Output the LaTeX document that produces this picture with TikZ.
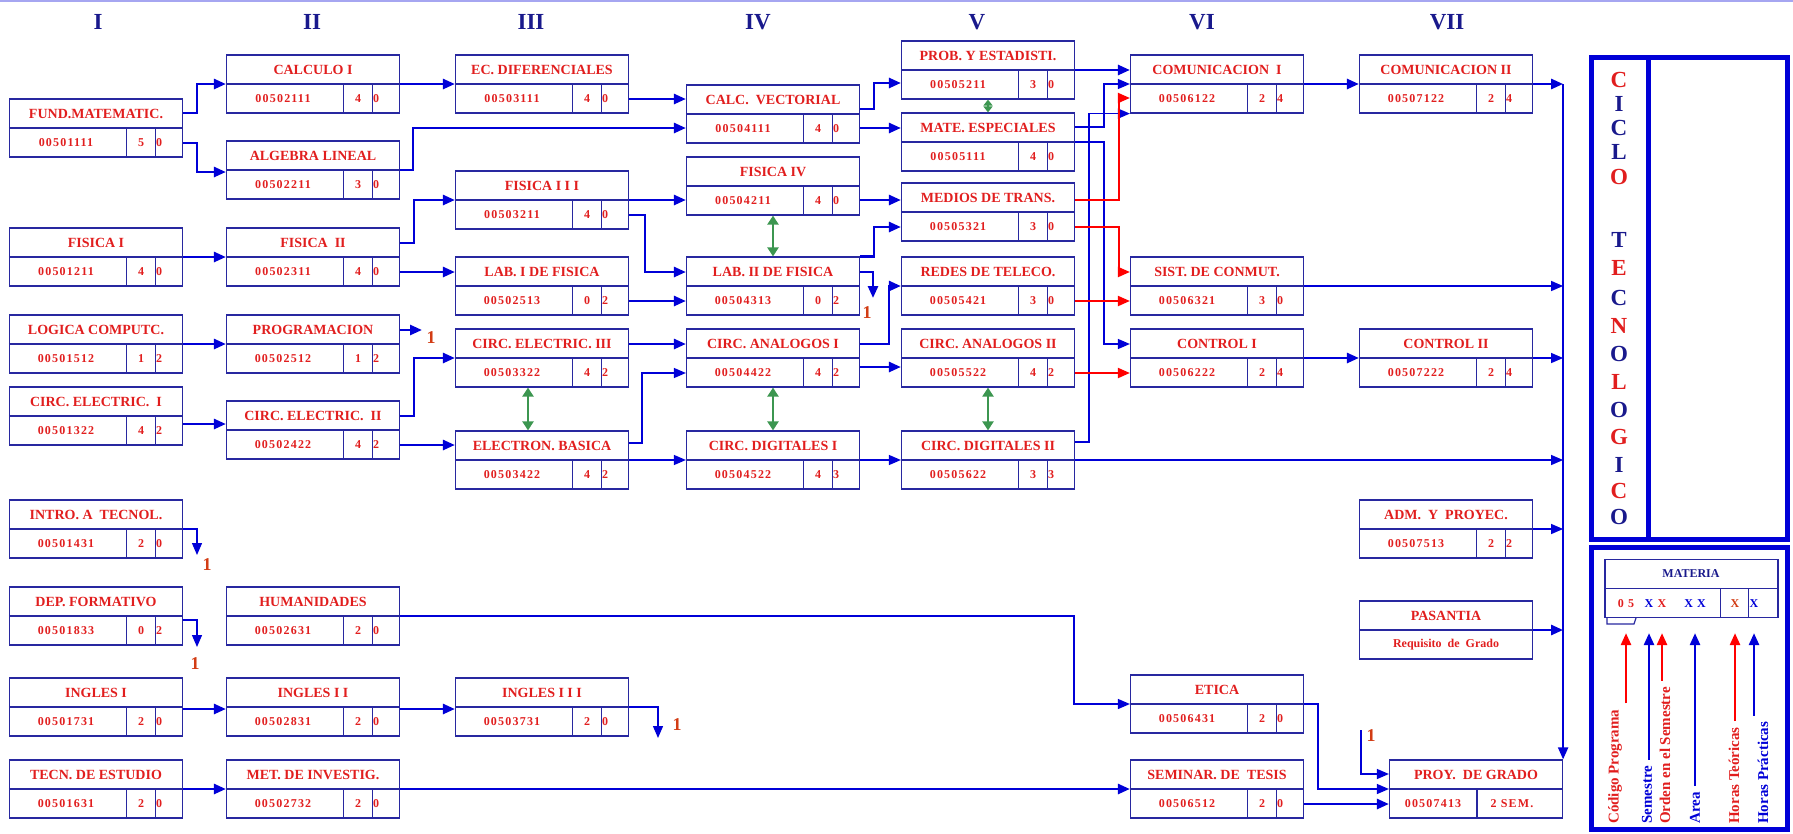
\documentclass[tikz,border=0pt]{standalone}
\usepackage{fontspec}
\setmainfont{Liberation Serif}
\newfontfamily\cifras[LetterSpace=10]{Liberation Serif}
\usetikzlibrary{arrows.meta}

\definecolor{borde}{RGB}{40,40,160}
\definecolor{azul}{RGB}{0,0,215}
\definecolor{rojo}{RGB}{225,30,30}
\definecolor{naranja}{RGB}{210,60,20}
\definecolor{verde}{RGB}{60,150,80}
\definecolor{marino}{RGB}{25,25,140}

% caja de materia: nombre, centro, titulo, codigo, horas T, horas P
\newcommand{\materia}[6]{%
  \node[caja] (#1) at (#2) {};
  \draw[borde,line width=1.2pt] (#1.west) -- (#1.east)
    ([xshift=-57pt]#1.south east) -- ([xshift=-57pt]#1.east)
    ([xshift=-28pt]#1.south east) -- ([xshift=-28pt]#1.east);
  \node[titulo] (#1-t) at ([yshift=14.5pt]#1.center) {#3};
  \node[codigo] (#1-c) at ([xshift=-30pt,yshift=-14.5pt]#1.center) {#4};
  \node[codigo] (#1-a) at ([xshift=45pt,yshift=-14.5pt]#1.center) {#5};
  \node[codigo,anchor=west] (#1-b) at ([xshift=60pt,yshift=-14.5pt]#1.center) {#6};
}

\begin{document}
\begin{tikzpicture}[x=1pt,y=-1pt,>={Triangle[length=12pt,width=10pt]},
  caja/.style={draw=borde,line width=1.2pt,minimum width=173pt,minimum height=58pt,inner sep=0pt},
  titulo/.style={text=rojo,font=\fontsize{14}{14}\selectfont\bfseries,inner sep=0pt},
  codigo/.style={text=rojo,font=\fontsize{12}{12}\cifras\bfseries,inner sep=0pt},
  semestre/.style={text=marino,font=\fontsize{23}{23}\selectfont\bfseries},
  letra/.style={font=\fontsize{23}{23}\selectfont\bfseries,inner sep=0pt},
  uno/.style={text=naranja,font=\fontsize{18}{18}\selectfont\bfseries,inner sep=0pt},
  flecha/.style={->,azul,line width=2.6pt},
  fina/.style={->,azul,line width=1.3pt},
  roja/.style={->,red,line width=2pt},
  verdes/.style={<->,verde,line width=2.6pt,>={Triangle[length=9pt,width=11pt]}},
  leyenda/.style={font=\fontsize{15}{15}\selectfont\bfseries,rotate=90,anchor=west,inner sep=0pt}]
\useasboundingbox (0,0) rectangle (1793,833);
\draw[azul!35,line width=1.5pt] (0,1) -- (1793,1);

\node[semestre] (s1) at (98,22) {I};
\node[semestre] (s2) at (312,22) {II};
\node[semestre] (s3) at (531,22) {III};
\node[semestre] (s4) at (758,22) {IV};
\node[semestre] (s5) at (977,22) {V};
\node[semestre] (s6) at (1202,22) {VI};
\node[semestre] (s7) at (1447,22) {VII};

% semestre I
\materia{fund}{96,128}{FUND.MATEMATIC.}{00501111}{5}{0}
\materia{fis1}{96,257}{FISICA I}{00501211}{4}{0}
\materia{logica}{96,344}{LOGICA COMPUTC.}{00501512}{1}{2}
\materia{ce1}{96,416}{CIRC. ELECTRIC.\ \ I}{00501322}{4}{2}
\materia{intro}{96,529}{INTRO. A\ \ TECNOL.}{00501431}{2}{0}
\materia{dep}{96,616}{DEP. FORMATIVO}{00501833}{0}{2}
\materia{ing1}{96,707}{INGLES I}{00501731}{2}{0}
\materia{tecn}{96,789}{TECN. DE ESTUDIO}{00501631}{2}{0}
% semestre II
\materia{calc1}{313,84}{CALCULO I}{00502111}{4}{0}
\materia{alg}{313,170}{ALGEBRA LINEAL}{00502211}{3}{0}
\materia{fis2}{313,257}{FISICA\ \ II}{00502311}{4}{0}
\materia{prog}{313,344}{PROGRAMACION}{00502512}{1}{2}
\materia{ce2}{313,430}{CIRC. ELECTRIC.\ \ II}{00502422}{4}{2}
\materia{hum}{313,616}{HUMANIDADES}{00502631}{2}{0}
\materia{ing2}{313,707}{INGLES I I}{00502831}{2}{0}
\materia{met}{313,789}{MET. DE INVESTIG.}{00502732}{2}{0}
% semestre III
\materia{ecdif}{542,84}{EC. DIFERENCIALES}{00503111}{4}{0}
\materia{fis3}{542,200}{FISICA I I I}{00503211}{4}{0}
\materia{lab1}{542,286}{LAB. I DE FISICA}{00502513}{0}{2}
\materia{ce3}{542,358}{CIRC. ELECTRIC. III}{00503322}{4}{2}
\materia{eb}{542,460}{ELECTRON. BASICA}{00503422}{4}{2}
\materia{ing3}{542,707}{INGLES I I I}{00503731}{2}{0}
% semestre IV
\materia{cv}{773,114}{CALC.\ \ VECTORIAL}{00504111}{4}{0}
\materia{fis4}{773,186}{FISICA IV}{00504211}{4}{0}
\materia{lab2}{773,286}{LAB. II DE FISICA}{00504313}{0}{2}
\materia{an1}{773,358}{CIRC. ANALOGOS I}{00504422}{4}{2}
\materia{dig1}{773,460}{CIRC. DIGITALES I}{00504522}{4}{3}
% semestre V
\materia{prob}{988,70}{PROB. Y ESTADISTI.}{00505211}{3}{0}
\materia{mate}{988,142}{MATE. ESPECIALES}{00505111}{4}{0}
\materia{medios}{988,212}{MEDIOS DE TRANS.}{00505321}{3}{0}
\materia{redes}{988,286}{REDES DE TELECO.}{00505421}{3}{0}
\materia{an2}{988,358}{CIRC. ANALOGOS II}{00505522}{4}{2}
\materia{dig2}{988,460}{CIRC. DIGITALES II}{00505622}{3}{3}
% semestre VI
\materia{com1}{1217,84}{COMUNICACION\ \ I}{00506122}{2}{4}
\materia{sist}{1217,286}{SIST. DE CONMUT.}{00506321}{3}{0}
\materia{ctrl1}{1217,358}{CONTROL I}{00506222}{2}{4}
\materia{etica}{1217,704}{ETICA}{00506431}{2}{0}
\materia{sem}{1217,789}{SEMINAR. DE\ \ TESIS}{00506512}{2}{0}
% semestre VII
\materia{com2}{1446,84}{COMUNICACION II}{00507122}{2}{4}
\materia{ctrl2}{1446,358}{CONTROL II}{00507222}{2}{4}
\materia{adm}{1446,529}{ADM.\ \ Y\ \ PROYEC.}{00507513}{2}{2}
\node[caja] (pas) at (1446,630) {};
\draw[borde,line width=1.2pt] (pas.west) -- (pas.east);
\node[titulo] (pas-t) at ([yshift=14.5pt]pas.center) {PASANTIA};
\node[text=rojo,font=\fontsize{12}{12}\selectfont\bfseries] (pas-c) at ([yshift=-14.5pt]pas.center) {Requisito\ \ de\ \ Grado};
\node[caja] (proy) at (1476,789) {};
\draw[borde,line width=1.2pt] (proy.west) -- (proy.east) ([xshift=88pt]proy.south west) -- ([xshift=88pt]proy.west);
\node[titulo] (proy-t) at ([yshift=14.5pt]proy.center) {PROY.\ \ DE GRADO};
\node[codigo] (proy-c) at ([xshift=-43pt,yshift=-14.5pt]proy.center) {00507413};
\node[codigo] (proy-s) at ([xshift=36pt,yshift=-14.5pt]proy.center) {2 SEM.};

% marcas "1"
\coordinate (u1c) at (422,330); \node[uno] (u1) at (431,338) {1};
\coordinate (u2c) at (873,298); \node[uno] (u2) at (867,313) {1};
\coordinate (u3c) at (197,555); \node[uno] (u3) at (207,565) {1};
\coordinate (u4c) at (197,647); \node[uno] (u4) at (195,664) {1};
\coordinate (u5c) at (658,738); \node[uno] (u5) at (677,725) {1};
\coordinate (u6c) at (1361,730); \node[uno] (u6) at (1371,736) {1};

% prelaciones
\draw[flecha] ([yshift=15pt]fund.east) -- ++(14,0) |- (calc1.west);
\draw[flecha] ([yshift=-15pt]fund.east) -- ++(14,0) |- ([yshift=-2pt]alg.west);
\draw[flecha] (calc1.east) -- (ecdif.west);
\draw[flecha] (alg.east) -- ++(13,0) |- ([yshift=-14pt]cv.west);
\draw[flecha] ([yshift=-15pt]ecdif.east) -- ([yshift=-15pt]ecdif.east -| cv.west);
\draw[flecha] (fis1.east) -- (fis2.west);
\draw[flecha] ([yshift=14pt]fis2.east) -- ++(14,0) |- (fis3.west);
\draw[flecha] ([yshift=-15pt]fis2.east) -- ([yshift=-15pt]fis2.east -| lab1.west);
\draw[flecha] (fis3.east) -- (fis3.east -| fis4.west);
\draw[flecha] ([yshift=-15pt]fis3.east) -- ++(16,0) |- ([yshift=14pt]lab2.west);
\draw[flecha] ([yshift=-15pt]lab1.east) -- ([yshift=-15pt]lab1.east -| lab2.west);
\draw[flecha] (lab2.north east) -- ++(14,0) |- ([yshift=-15pt]medios.west);
\draw[flecha] ([yshift=14pt]lab2.east) -| (u2c);
\draw[flecha] ([yshift=-14pt]fis4.east) -- ([yshift=-14pt]fis4.east -| medios.west);
\draw[flecha] ([yshift=5pt]cv.east) -- ++(14,0) |- ([yshift=-13pt]prob.west);
\draw[flecha] ([yshift=-14pt]cv.east) -- ([yshift=-14pt]cv.east -| mate.west);
\draw[flecha] (prob.east) -- (prob.east -| com1.west);
\draw[fina] ([yshift=15pt]mate.east) -- ++(29,0) |- (com1.west);
\draw[fina] (mate.east) -- ++(29,0) |- ([yshift=14pt]ctrl1.west);
\draw[fina] ([yshift=18pt]dig2.east) -- ++(14,0) |- (com1.south west);
\draw[roja] ([yshift=12pt]medios.east) -- ++(44,0) |- ([yshift=-14pt]com1.west);
\draw[roja] ([yshift=-15pt]medios.east) -- ++(44,0) |- ([yshift=14pt]sist.west);
\draw[roja] ([yshift=-15pt]redes.east) -- ([yshift=-15pt]redes.east -| sist.west);
\draw[roja] ([yshift=-15pt]an2.east) -- ([yshift=-15pt]an2.east -| ctrl1.west);
\draw[flecha] (logica.east) -- (prog.west);
\draw[flecha] ([yshift=14pt]prog.east) -- (u1c);
\draw[flecha] ([yshift=-8pt]ce1.east) -- ([yshift=-8pt]ce1.east -| ce2.west);
\draw[flecha] ([yshift=14pt]ce2.east) -- ++(14,0) |- (ce3.west);
\draw[flecha] ([yshift=-15pt]ce2.east) -- ([yshift=-15pt]ce2.east -| eb.west);
\draw[flecha] ([yshift=14pt]ce3.east) -- ([yshift=14pt]ce3.east -| an1.west);
\draw[fina] ([yshift=17pt]eb.east) -- ++(13,0) |- ([yshift=-15pt]an1.west);
\draw[fina] (eb.east) -- (dig1.west);
\draw[flecha] ([yshift=14pt]an1.east) -- ++(29,0) |- (redes.west);
\draw[flecha] ([yshift=-9pt]an1.east) -- ([yshift=-9pt]an1.east -| an2.west);
\draw[fina] (dig1.east) -- (dig2.west);
\draw[flecha] (com1.east) -- (com2.west);
\draw[flecha] (ctrl1.east) -- (ctrl2.west);
\draw[fina] (intro.east) -| (u3c);
\draw[fina] ([yshift=-4pt]dep.east) -| (u4c);
\draw[flecha] ([yshift=-2pt]ing1.east) -- ([yshift=-2pt]ing1.east -| ing2.west);
\draw[flecha] ([yshift=-2pt]ing2.east) -- ([yshift=-2pt]ing2.east -| ing3.west);
\draw[fina] (ing3.east) -| (u5c);
\draw[flecha] (tecn.east) -- (met.west);
\draw[flecha] (met.east) -- (sem.west);
\draw[fina] (hum.east) -- ++(674,0) |- (etica.west);
\draw[fina] (etica.east) -- ++(14,0) |- (proy.west);
\draw[flecha] ([yshift=-15pt]sem.east) -- ([yshift=-15pt]sem.east -| proy.west);
\draw[fina] (u6c) |- ([yshift=15pt]proy.west);
% colector hacia el proyecto de grado
\draw[flecha] (com2.east) -- (com2.east -| proy.east);
\draw[fina] (sist.east) -- (sist.east -| proy.east);
\draw[fina] (ctrl2.east) -- (ctrl2.east -| proy.east);
\draw[fina] (dig2.east) -- (dig2.east -| proy.east);
\draw[fina] (adm.east) -- (adm.east -| proy.east);
\draw[flecha] (pas.east) -- (pas.east -| proy.east);
\draw[->,azul,line width=2pt] (com2.east -| proy.east) -- (proy.north east);
% correquisitos
\draw[verdes,>={Triangle[length=6pt,width=9pt]}] (prob.south) -- (mate.north);
\draw[verdes] (fis4.south) -- (lab2.north);
\draw[verdes] ([xshift=-14pt]ce3.south) -- ([xshift=-14pt]eb.north);
\draw[verdes] (an1.south) -- (dig1.north);
\draw[verdes] (an2.south) -- (dig2.north);

% ciclo tecnologico
\draw[azul,line width=5pt] (1591,57) rectangle (1787,539) (1648,57) -- (1648,539);
\node[letra,text=rojo] (l1) at (1619,80) {C}; \node[letra,text=marino] (l2) at (1619,104) {I};
\node[letra,text=marino] (l3) at (1619,128) {C}; \node[letra,text=marino] (l4) at (1619,152) {L};
\node[letra,text=rojo] (l5) at (1619,177) {O};
\node[letra,text=marino] (l6) at (1619,240) {T}; \node[letra,text=rojo] (l7) at (1619,268) {E};
\node[letra,text=marino] (l8) at (1619,298) {C}; \node[letra,text=rojo] (l9) at (1619,326) {N};
\node[letra,text=marino] (l10) at (1619,354) {O}; \node[letra,text=rojo] (l11) at (1619,382) {L};
\node[letra,text=marino] (l12) at (1619,410) {O}; \node[letra,text=rojo] (l13) at (1619,437) {G};
\node[letra,text=marino] (l14) at (1619,465) {I}; \node[letra,text=rojo] (l15) at (1619,491) {C};
\node[letra,text=marino] (l16) at (1619,517) {O};

% leyenda
\draw[azul,line width=5pt] (1591,547) rectangle (1787,829);
\node[caja] (mat) at (1691.5,588.5) {};
\draw[borde,line width=1.2pt] (mat.west) -- (mat.east)
  ([xshift=-58pt]mat.south east) -- ([xshift=-58pt]mat.east)
  ([xshift=-30pt]mat.south east) -- ([xshift=-30pt]mat.east);
\draw[borde,line width=1.2pt] (1607,618) |- (1634,624) -- (1636,618);
\node[text=marino,font=\fontsize{12}{12}\selectfont\bfseries] (mat-t) at (1691,574) {MATERIA};
\node[codigo] (x1) at (1626,604) {0 5};
\node[codigo,text=azul] (x2) at (1649,604) {X};
\node[codigo] (x3) at (1662,604) {X};
\node[codigo,text=azul] (x4) at (1695,604) {X X};
\node[codigo,text=naranja] (x5) at (1735,604) {X};
\node[codigo,text=azul] (x6) at (1754,604) {X};
\node[leyenda,text=rojo] (lcod) at (1615,824) {Código Programa};
\node[leyenda,text=azul] (lsem) at (1647,824) {Semestre};
\node[leyenda,text=rojo] (lord) at (1665,824) {Orden en el Semestre};
\node[leyenda,text=azul] (lare) at (1695,824) {Area};
\node[leyenda,text=rojo] (lht) at (1734,824) {Horas Teóricas};
\node[leyenda,text=azul] (lhp) at (1763,824) {Horas Prácticas};
\draw[->,red,line width=2.5pt] ([yshift=6pt]lcod.east -| x1.south) -- ([yshift=-15pt]x1.south |- mat.south);
\draw[->,azul,line width=2.5pt] ([yshift=6pt]lsem.east -| x2.south) -- ([yshift=-15pt]x2.south |- mat.south);
\draw[->,red,line width=2.5pt] ([yshift=6pt]lord.east -| x3.south) -- ([yshift=-15pt]x3.south |- mat.south);
\draw[->,azul,line width=2.5pt] ([yshift=6pt]lare.east -| x4.south) -- ([yshift=-15pt]x4.south |- mat.south);
\draw[->,red,line width=2.5pt] ([yshift=6pt]lht.east -| x5.south) -- ([yshift=-15pt]x5.south |- mat.south);
\draw[->,azul,line width=2.5pt] ([yshift=6pt]lhp.east -| x6.south) -- ([yshift=-15pt]x6.south |- mat.south);
\end{tikzpicture}
\end{document}
